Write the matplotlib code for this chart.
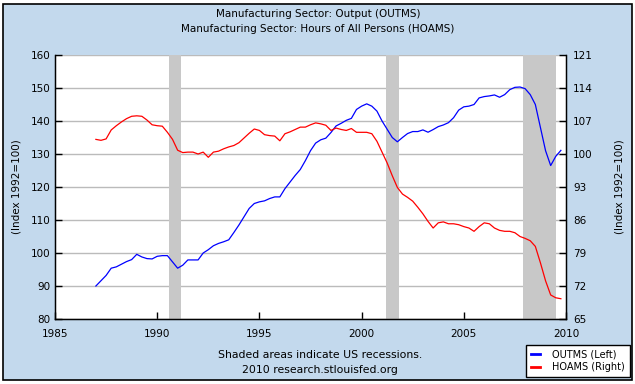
import numpy as np
import matplotlib
matplotlib.use("Agg")
import matplotlib.pyplot as plt
from matplotlib.patches import Rectangle
from matplotlib.lines import Line2D

# Quarterly data 1987Q1 - 2009Q4
start_year = 1987
outms = [90.0, 91.6, 93.2, 95.4,
         95.8, 96.6, 97.4, 98.0,
         99.6, 98.8, 98.3, 98.2,
         99.0, 99.2, 99.2, 97.3,
         95.4, 96.3, 97.9, 97.9,
         97.9, 100.0, 101.0, 102.2,
         102.9, 103.4, 104.0, 106.2,
         108.5, 111.0, 113.5, 115.0,
         115.5, 115.8, 116.5, 117.0,
         117.0, 119.5, 121.5, 123.5,
         125.3, 128.0, 131.0, 133.3,
         134.3, 134.8, 136.5, 138.5,
         139.3, 140.2, 140.8, 143.5,
         144.5, 145.2, 144.5, 143.0,
         140.0, 137.5, 135.0, 133.7,
         135.0, 136.2, 136.8, 136.8,
         137.3, 136.6, 137.4, 138.3,
         138.8, 139.5, 141.0, 143.3,
         144.3, 144.5, 145.0, 147.0,
         147.4, 147.6, 147.9, 147.2,
         148.0, 149.5, 150.2, 150.3,
         149.8, 148.0, 145.0, 138.0,
         131.0, 126.5, 129.3, 131.1]
hoams = [103.1, 102.9, 103.2, 105.1,
         106.0, 106.8, 107.5, 108.0,
         108.1, 108.0, 107.2, 106.2,
         106.0, 105.9, 104.6, 103.1,
         100.8, 100.3, 100.4, 100.4,
         100.0, 100.4, 99.3, 100.4,
         100.6, 101.1, 101.5, 101.8,
         102.4, 103.4, 104.4, 105.3,
         105.0, 104.1, 103.9, 103.8,
         102.8, 104.3, 104.7, 105.2,
         105.7, 105.7, 106.2, 106.6,
         106.4, 106.1, 105.0, 105.5,
         105.2, 105.0, 105.4, 104.6,
         104.6, 104.6, 104.3, 102.7,
         100.4, 98.1, 95.4, 92.9,
         91.5, 90.8, 90.0, 88.7,
         87.3, 85.7, 84.3, 85.4,
         85.6, 85.2, 85.2, 85.0,
         84.6, 84.3, 83.6, 84.6,
         85.4, 85.2, 84.3, 83.8,
         83.6, 83.6, 83.3, 82.5,
         82.1, 81.6, 80.4, 76.9,
         73.1, 70.1, 69.5, 69.3]
recessions = [(1990.58, 1991.17), (2001.17, 2001.83), (2007.92, 2009.5)]
left_ticks = [80, 90, 100, 110, 120, 130, 140, 150, 160]
right_ticks = [65, 72, 79, 86, 93, 100, 107, 114, 121]
x_ticks = [1985, 1990, 1995, 2000, 2005, 2010]

dates = start_year + np.arange(len(outms)) * 0.25

W, H = 635, 384
fig = plt.figure(figsize=(W / 100, H / 100), dpi=100)
fig.patch.set_facecolor("white")
bg = "#C3D9ED"
fig.patches.append(Rectangle((3 / W, 4 / H), 629 / W, 376 / H, transform=fig.transFigure,
                             facecolor=bg, edgecolor="black", linewidth=1.2, zorder=-5))

ax = fig.add_axes([55 / W, (H - 319) / H, 511 / W, 264 / H])
ax.set_zorder(1)
ax.set_facecolor("white")
ax.set_xlim(1985, 2010)
ax.set_ylim(80, 160)
ax.set_yticks(left_ticks)
ax.set_xticks(x_ticks)
ax.grid(axis="y", color="#BBBBBB", linewidth=1.0)
ax.set_axisbelow(True)
for s0, s1 in recessions:
    ax.axvspan(s0, s1, facecolor="#C8C8C8", edgecolor="none", zorder=1.5)
ax.spines["top"].set_visible(False)
for sp in ["left", "bottom", "right"]:
    ax.spines[sp].set_linewidth(1.0)
ax.tick_params(axis="both", direction="in", length=5, width=1, labelsize=7.5)
ax.tick_params(axis="x", pad=7)
ax.tick_params(axis="y", pad=3)
ax.plot(dates, outms, color="#0000FF", linewidth=0.9, zorder=3)
ax.set_ylabel("(Index 1992=100)", fontsize=7.5)

ax2 = ax.twinx()
ax2.set_ylim(65, 121)
ax2.set_yticks(right_ticks)
ax2.spines["top"].set_visible(False)
ax2.tick_params(axis="y", direction="in", length=5, width=1, labelsize=7.5, pad=5)
ax2.plot(dates, hoams, color="#FF0000", linewidth=0.9, zorder=3)
ax2.set_ylabel("(Index 1992=100)", fontsize=7.5)
ax2.yaxis.set_label_coords(1.094, 0.5)
ax.yaxis.set_label_coords(-0.066, 0.5)

fig.text(318 / W, 1 - 14 / H, "Manufacturing Sector: Output (OUTMS)", ha="center", va="center", fontsize=7.5)
fig.text(318 / W, 1 - 29 / H, "Manufacturing Sector: Hours of All Persons (HOAMS)", ha="center", va="center", fontsize=7.5)
fig.text(320 / W, 1 - 355 / H, "Shaded areas indicate US recessions.", ha="center", va="center", fontsize=7.8)
fig.text(320 / W, 1 - 370 / H, "2010 research.stlouisfed.org", ha="center", va="center", fontsize=7.8)

handles = [Line2D([], [], color="#0000FF", linewidth=2),
           Line2D([], [], color="#FF0000", linewidth=2)]
leg = fig.legend(handles, ["OUTMS (Left)", "HOAMS (Right)"], loc="lower right",
                 bbox_to_anchor=(630 / W, 1 - 377 / H), bbox_transform=fig.transFigure,
                 fontsize=7, frameon=True, fancybox=False, handlelength=0.9,
                 handletextpad=1.3, borderpad=0.5, labelspacing=0.25, borderaxespad=0)
leg.get_frame().set_edgecolor("black")
leg.get_frame().set_linewidth(1.0)
leg.get_frame().set_alpha(1.0)

fig.savefig("out.png", dpi=100)
